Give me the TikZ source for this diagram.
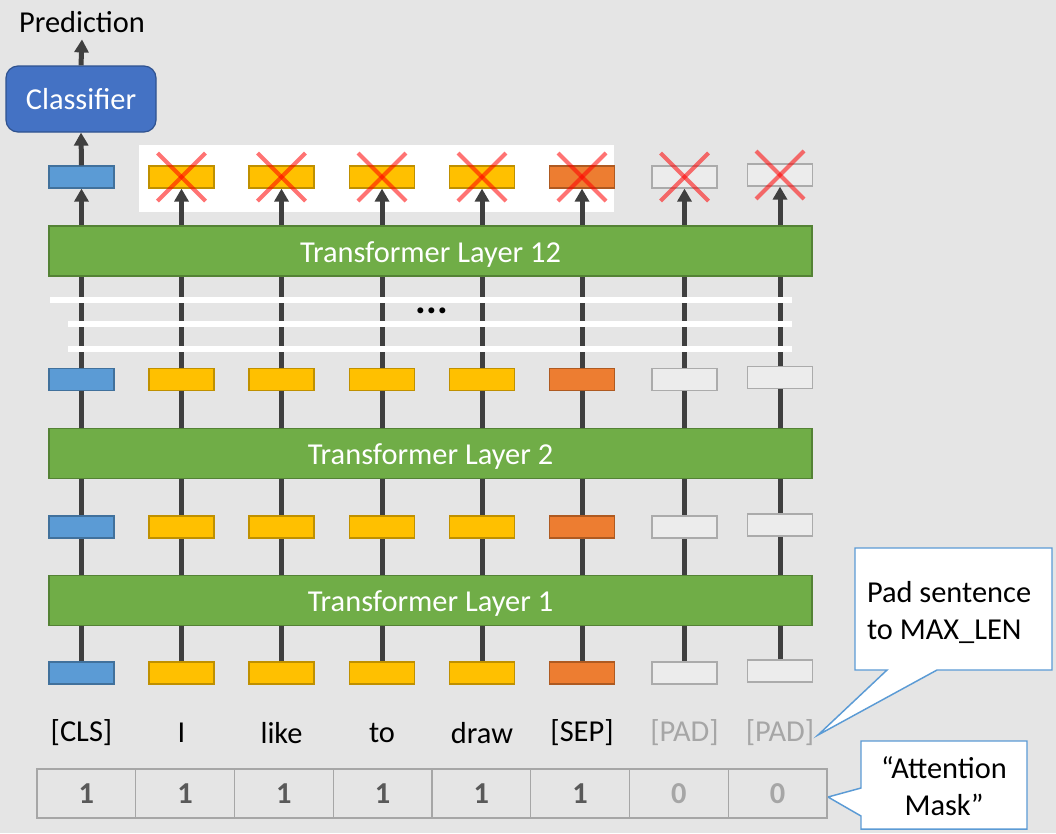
\documentclass[tikz,border=0pt]{standalone}
\usepackage{fontspec}
\setmainfont{Carlito}
\usetikzlibrary{arrows.meta,calc}
\pgfdeclarelayer{bg}
\pgfdeclarelayer{wires}
\pgfsetlayers{bg,wires,main}
\definecolor{bgc}{HTML}{E5E5E5}
\definecolor{cblue}{HTML}{5B9BD5}
\definecolor{cblueD}{HTML}{41719C}
\definecolor{cyel}{HTML}{FFC000}
\definecolor{cyelD}{HTML}{BF9000}
\definecolor{corg}{HTML}{ED7D31}
\definecolor{corgD}{HTML}{AE5A21}
\definecolor{cpad}{HTML}{ECECEC}
\definecolor{cpadD}{HTML}{ABABAB}
\definecolor{cgreen}{HTML}{70AD47}
\definecolor{cgreenD}{HTML}{548235}
\definecolor{cclf}{HTML}{4472C4}
\definecolor{cclfD}{HTML}{2F528F}
\definecolor{cwire}{HTML}{3F3F3F}
\definecolor{cgreytxt}{HTML}{A6A6A6}
\definecolor{cdarktxt}{HTML}{595959}
\definecolor{ccall}{HTML}{5B9BD5}
\tikzset{
  big/.style={font=\fontsize{22.8}{27.75}\selectfont},
  tok/.style={line width=0.9pt, minimum width=48.75pt, minimum height=16.5pt, inner sep=0pt},
  layerbox/.style={big, fill=cgreen, draw=cgreenD, line width=0.9pt, minimum width=572.25pt, minimum height=37.5pt, text=white, inner sep=0pt, text height=21.5pt, text depth=4.5pt},
  classbox/.style={big, fill=cclf, draw=cclfD, line width=0.9pt, rounded corners=9pt, minimum width=112.5pt, minimum height=49.5pt, text=white, inner sep=0pt},
  wire/.style={line width=3.75pt, draw=cwire},
  arr/.style={wire, -{Triangle[width=10.5pt,length=9.75pt]}},
  xmark/.style={draw=red, line width=3pt, opacity=0.55},
  whiteline/.style={draw=white, line width=5pt},
  toklabel/.style={big, inner sep=0pt},
  maskcell/.style={font=\fontsize{22.8}{27.75}\selectfont\bfseries, draw=cgreytxt, line width=1.1pt, minimum width=74.06pt, minimum height=36.75pt, inner sep=0pt},
  calltext/.style={big, inner sep=0pt},
  callline/.style={draw=ccall, line width=1.1pt, fill=white},
}
\begin{document}
\begin{tikzpicture}[x=0.75pt,y=-0.75pt]
\useasboundingbox (0,0) rectangle (1056,833);
\begin{pgfonlayer}{bg}
  \fill[bgc] (0,0) rectangle (1056,833);
  \fill[white] (139,145) rectangle (614,212);
\end{pgfonlayer}

% token boxes
\foreach \i/\x/\f/\d/\dy in {1/81.5/cblue/cblueD/0, 2/181.5/cyel/cyelD/0, 3/281.5/cyel/cyelD/0, 4/382/cyel/cyelD/0, 5/482/cyel/cyelD/0, 6/582/corg/corgD/0, 7/684.5/cpad/cpadD/0, 8/780/cpad/cpadD/-2}{
  \node[tok, fill=\f, draw=\d] (a\i) at (\x,673+\dy) {};
  \node[tok, fill=\f, draw=\d] (b\i) at (\x,527+\dy) {};
  \node[tok, fill=\f, draw=\d] (c\i) at (\x,379.5+\dy) {};
  \node[tok, fill=\f, draw=\d] (d\i) at (\x,177+\dy) {};
  \begin{pgfonlayer}{wires}
    \draw[arr] (a\i.north) -- (d\i.south);
  \end{pgfonlayer}
}

% layers
\node[layerbox] (L1) at (430.5,600.5) {Transformer Layer 1};
\node[layerbox] (L2) at (430.5,453.5) {Transformer Layer 2};
\node[layerbox] (L12) at (430.5,251) {Transformer Layer 12};

% white separator lines
\coordinate (s1a) at (50,300);  \coordinate (s1b) at (792,300);
\coordinate (s2a) at (68,324);  \coordinate (s2b) at (792,324);
\coordinate (s3a) at (68,349);  \coordinate (s3b) at (792,349);
\draw[whiteline] (s1a) -- (s1b);
\draw[whiteline] (s2a) -- (s2b);
\draw[whiteline] (s3a) -- (s3b);
\node[font=\fontsize{30}{34}\selectfont\bfseries, inner sep=0pt] (dots) at (432,311) {...};

% classifier and prediction
\node[classbox] (clf) at (81,99) {Classifier};
\node[big, inner sep=4.5pt] (pred) at (82,22.5) {Prediction};
\draw[arr] (d1.north) -- (clf.south);
\draw[arr] (clf.north) -- (pred.south);

% red crosses
\foreach \i in {2,...,8}{
  \draw[xmark] ($(d\i)+(-24,-24)$) -- ($(d\i)+(24,24)$);
  \draw[xmark] ($(d\i)+(-24,24)$) -- ($(d\i)+(24,-24)$);
}

% token labels
\node[toklabel] (w1) at (81.5,733) {[CLS]};
\node[toklabel] (w2) at (181.5,733) {I};
\node[toklabel] (w3) at (281.5,733) {like};
\node[toklabel] (w4) at (382,733) {to};
\node[toklabel] (w5) at (482,733) {draw};
\node[toklabel] (w6) at (582,733) {[SEP]};
\node[toklabel, text=cgreytxt] (w7) at (684.5,733) {[PAD]};
\node[toklabel, text=cgreytxt] (w8) at (780,733) {[PAD]};

% attention mask
\foreach \i/\v/\c in {1/1/cdarktxt, 2/1/cdarktxt, 3/1/cdarktxt, 4/1/cdarktxt, 5/1/cdarktxt, 6/1/cdarktxt, 7/0/cgreytxt, 8/0/cgreytxt}{
  \node[maskcell, text=\c] (m\i) at ({37+98.75*(\i-0.5)},793.5) {\v};
}

% callouts
\node[calltext, align=flush left, text width=129.75pt, inner xsep=9pt, minimum height=91.5pt] (padnote) at (953.5,612) {Pad sentence\\to MAX\_LEN};
\node[calltext, align=center, minimum width=124.5pt, minimum height=66pt] (attn) at (944,786) {“Attention\\Mask”};
\coordinate (padtip) at (818,735);
\coordinate (masktip) at (828,797);
\coordinate (padtl) at (855,548);
\coordinate (padbr) at (1052,670);
\coordinate (attl) at (861,741);
\coordinate (atbr) at (1027,829);
\begin{pgfonlayer}{bg}
  \draw[callline] (padtl) -- (padtl -| padbr) -- (padbr)
     -- ($(padtl |- padbr)+(82,0)$) -- (padtip) -- ($(padtl |- padbr)+(32,0)$) -- (padtl |- padbr) -- cycle;
  \draw[callline] (attl) -- (attl -| atbr) -- (atbr) -- (attl |- atbr)
     -- ($(attl |- atbr)+(0,-13)$) -- (masktip) -- ($(attl)+(0,47)$) -- cycle;
\end{pgfonlayer}
\end{tikzpicture}
\end{document}
